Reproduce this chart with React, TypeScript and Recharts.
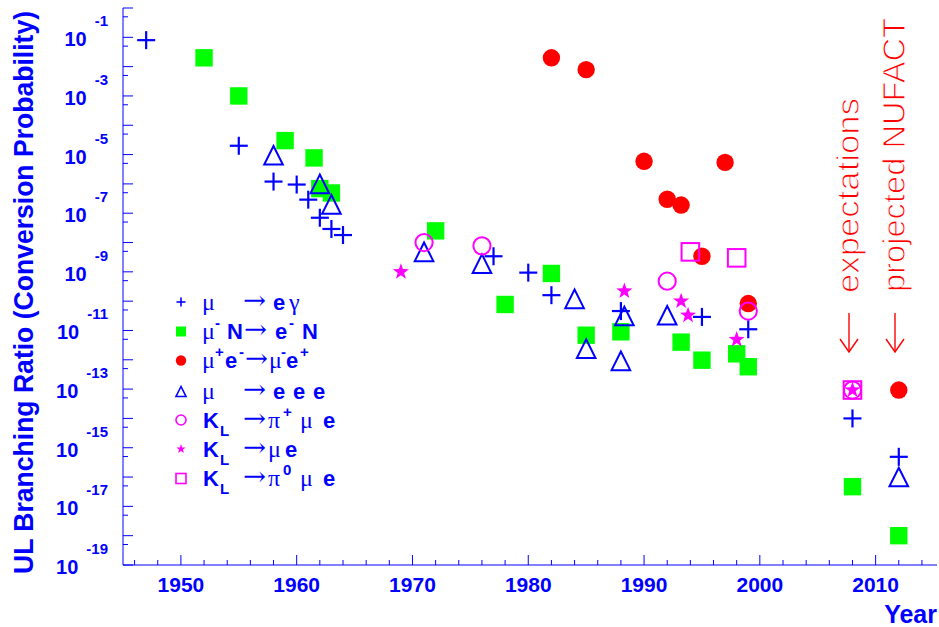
import React from 'react';
import { ScatterChart, Scatter, XAxis, YAxis } from 'recharts';

type Pt = [number, number];

// [year, upper limit]
const muEGamma: Pt[] = [
  [1947, 8e-2], [1955, 2e-5], [1958, 1.2e-6], [1960, 9.5e-7], [1961, 2.9e-7],
  [1962, 7e-8], [1963, 2.9e-8], [1964, 1.8e-8], [1977, 3.4e-9], [1980, 9.4e-10],
  [1982, 1.6e-10], [1988, 4.6e-11], [1995, 2.9e-11], [1999, 1.1e-11],
  [2008, 1e-14], [2012, 4.9e-16],
];
const muNeN: Pt[] = [
  [1952, 2e-2], [1955, 1e-3], [1959, 3e-5], [1961.5, 7.7e-6], [1962, 6.9e-7],
  [1963, 4.9e-7], [1972, 2.5e-8], [1978, 7.7e-11], [1982, 8.8e-10], [1985, 6.9e-12],
  [1988, 9e-12], [1993.2, 4e-12], [1995, 9.7e-13], [1998, 1.6e-12], [1999, 5.8e-13],
  [2008, 4.7e-17], [2012, 1e-18],
];
const muonium: Pt[] = [
  [1982, 2e-2], [1985, 7.9e-3], [1990, 5.9e-6], [1992, 3e-7], [1993.2, 1.9e-7],
  [1995, 3.4e-9], [1997, 5.4e-6], [1999, 8.3e-11], [2012, 9.3e-14],
];
const muEEE: Pt[] = [
  [1958, 9.5e-6], [1962, 1e-6], [1963, 2e-7], [1971, 4.8e-9], [1976, 1.9e-9],
  [1984, 1.2e-10], [1985, 2.4e-12], [1988, 9.2e-13], [1988.3, 3.1e-11], [1992, 3.3e-11],
  [2012, 1e-16],
];
const klPiMuE: Pt[] = [[1971, 1e-8], [1976, 7.7e-9], [1992, 4.8e-10], [1999, 4.6e-11], [2008, 9.3e-14]];
const klMuE: Pt[] = [
  [1969, 1e-9], [1988.3, 2.2e-10], [1993.2, 1e-10], [1993.8, 3.3e-11], [1998, 4.9e-12], [2008, 9.3e-14],
];
const klPi0MuE: Pt[] = [[1994, 4.8e-9], [1998, 3e-9], [2008, 9.3e-14]];

const xTicks = [
  1946, 1948, 1950, 1952, 1954, 1956, 1958, 1960, 1962, 1964, 1966, 1968, 1970, 1972,
  1974, 1976, 1978, 1980, 1982, 1984, 1986, 1988, 1990, 1992, 1994, 1996, 1998, 2000,
  2002, 2004, 2006, 2008, 2010, 2012, 2014,
];
const yDecades = [
  1, 1e-1, 1e-2, 1e-3, 1e-4, 1e-5, 1e-6, 1e-7, 1e-8, 1e-9, 1e-10, 1e-11, 1e-12, 1e-13,
  1e-14, 1e-15, 1e-16, 1e-17, 1e-18, 1e-19,
];
const yHalves = [
  5e-1, 5e-2, 5e-3, 5e-4, 5e-5, 5e-6, 5e-7, 5e-8, 5e-9, 5e-10, 5e-11, 5e-12, 5e-13,
  5e-14, 5e-15, 5e-16, 5e-17, 5e-18, 5e-19,
];

const BLUE = '#0000ff';
const GREEN = '#00ff00';
const RED = '#ff0000';
const MAG = '#ff00ff';
const SANS = 'Liberation Sans, Arial, sans-serif';
const SERIF = 'Liberation Serif, Times New Roman, serif';

const toRows = (pts: Pt[]) => pts.map(([x, y]) => ({ x, y }));

function Plus({ cx, cy, r = 9, w = 2.2 }: any) {
  return (
    <g stroke={BLUE} strokeWidth={w}>
      <line x1={cx - r} x2={cx + r} y1={cy} y2={cy} />
      <line x1={cx} x2={cx} y1={cy - r} y2={cy + r} />
    </g>
  );
}
function Box({ cx, cy, r = 8.7 }: any) {
  return <rect x={cx - r} y={cy - r} width={2 * r} height={2 * r} fill={GREEN} />;
}
function Dot({ cx, cy, r = 8.7 }: any) {
  return <circle cx={cx} cy={cy} r={r} fill={RED} />;
}
function Tri({ cx, cy, r = 9.3, w = 2 }: any) {
  return (
    <polygon
      points={`${cx},${cy - r} ${cx - r},${cy + r} ${cx + r},${cy + r}`}
      fill="none"
      stroke={BLUE}
      strokeWidth={w}
    />
  );
}
function Ring({ cx, cy, r = 8.6, w = 2 }: any) {
  return <circle cx={cx} cy={cy} r={r} fill="none" stroke={MAG} strokeWidth={w} />;
}
function Star({ cx, cy, r = 8.5 }: any) {
  const pts: string[] = [];
  for (let i = 0; i < 10; i++) {
    const rr = i % 2 === 0 ? r : r * 0.4;
    const a = -Math.PI / 2 + (i * Math.PI) / 5;
    pts.push(`${cx + rr * Math.cos(a)},${cy + rr * Math.sin(a)}`);
  }
  return <polygon points={pts.join(' ')} fill={MAG} />;
}
function OpenBox({ cx, cy, r = 8.8, w = 2 }: any) {
  return <rect x={cx - r} y={cy - r} width={2 * r} height={2 * r} fill="none" stroke={MAG} strokeWidth={w} />;
}

function XTick({ x, y, payload }: any) {
  const major = payload.value % 10 === 0;
  return (
    <g>
      <line x1={x} x2={x} y1={y} y2={y - (major ? 10 : 5)} stroke={BLUE} />
      {major && (
        <text x={x} y={y + 27} textAnchor="middle" fill={BLUE} fontFamily={SANS} fontWeight="bold" fontSize={21}>
          {payload.value}
        </text>
      )}
    </g>
  );
}

function YTick({ x, y, payload }: any) {
  const lg = Math.log10(payload.value);
  const e = Math.round(lg);
  const major = Math.abs(lg - e) < 0.01;
  return (
    <g>
      <line x1={x} x2={x + (major ? 10 : 5)} y1={y} y2={y} stroke={BLUE} />
      {major && e % 2 !== 0 && (
        <text x={108} y={y + 9} textAnchor="end" fill={BLUE} fontFamily={SANS} fontWeight="bold">
          <tspan fontSize={20}>10</tspan>
          <tspan dx={8} dy={-20} fontSize={15}>{e}</tspan>
        </text>
      )}
    </g>
  );
}

type Tok = [string, number, 'b' | 'g' | 'a' | 'sup' | 'sub'];
const legendRows: { y: number; marker: string; toks: Tok[] }[] = [
  { y: 302, marker: 'plus', toks: [['μ', 202, 'g'], ['→', 243, 'a'], ['e', 273, 'b'], ['γ', 289, 'g']] },
  { y: 331.5, marker: 'box', toks: [['μ', 202, 'g'], ['-', 215, 'sup'], ['N', 227, 'b'], ['→', 244, 'a'], ['e', 275, 'b'], ['-', 289, 'sup'], ['N', 302, 'b']] },
  { y: 360.5, marker: 'dot', toks: [['μ', 202, 'g'], ['+', 215, 'sup'], ['e', 225, 'b'], ['-', 239, 'sup'], ['→', 245, 'a'], ['μ', 269, 'g'], ['-', 281, 'sup'], ['e', 286, 'b'], ['+', 300, 'sup']] },
  { y: 391.5, marker: 'tri', toks: [['μ', 202, 'g'], ['→', 243, 'a'], ['e', 273, 'b'], ['e', 293, 'b'], ['e', 313, 'b']] },
  { y: 420, marker: 'ring', toks: [['K', 203, 'b'], ['L', 220, 'sub'], ['→', 243, 'a'], ['π', 268, 'g'], ['+', 283, 'sup'], ['μ', 300, 'g'], ['e', 323, 'b']] },
  { y: 449, marker: 'star', toks: [['K', 203, 'b'], ['L', 220, 'sub'], ['→', 243, 'a'], ['μ', 268, 'g'], ['e', 285, 'b']] },
  { y: 478.5, marker: 'obox', toks: [['K', 203, 'b'], ['L', 220, 'sub'], ['→', 243, 'a'], ['π', 268, 'g'], ['0', 283, 'sup'], ['μ', 300, 'g'], ['e', 323, 'b']] },
];

function LegendMarker({ kind, cx, cy }: { kind: string; cx: number; cy: number }) {
  switch (kind) {
    case 'plus': return <Plus cx={cx} cy={cy} r={4.5} w={1.6} />;
    case 'box': return <Box cx={cx} cy={cy} r={5} />;
    case 'dot': return <Dot cx={cx} cy={cy} r={5.2} />;
    case 'tri': return <Tri cx={cx} cy={cy} r={5} w={1.6} />;
    case 'ring': return <Ring cx={cx} cy={cy} r={5} w={1.6} />;
    case 'star': return <Star cx={cx} cy={cy} r={5} />;
    default: return <OpenBox cx={cx} cy={cy} r={5} w={1.6} />;
  }
}

// downward arrow drawn under the rotated red notes
function DownArrow({ x, y1, y2 }: { x: number; y1: number; y2: number }) {
  return (
    <g stroke={RED} strokeWidth={1.4} fill="none">
      <line x1={x} x2={x} y1={y1} y2={y2} />
      <polyline points={`${x - 9},${y2 - 13} ${x},${y2} ${x + 9},${y2 - 13}`} />
    </g>
  );
}

function Overlay() {
  return (
    <svg width={939} height={627} style={{ position: 'absolute', left: 0, top: 0, pointerEvents: 'none' }}>
      <text
        x={33}
        y={292.5}
        transform="rotate(-90 33 292.5)"
        textAnchor="middle"
        fill={BLUE}
        fontFamily={SANS}
        fontWeight="bold"
        fontSize={27}
        textLength={563}
        lengthAdjust="spacingAndGlyphs"
      >
        UL Branching Ratio (Conversion Probability)
      </text>
      <text x={937} y={623} textAnchor="end" fill={BLUE} fontFamily={SANS} fontWeight="bold" fontSize={25}>
        Year
      </text>

      {legendRows.map((row, i) => (
        <g key={i}>
          <LegendMarker kind={row.marker} cx={181} cy={row.y} />
          {row.toks.map(([t, x, k], j) => {
            const base = row.y + 7.5;
            if (k === 'g')
              return (
                <text key={j} x={x} y={base} fill={BLUE} fontFamily={SERIF} fontSize={24}>{t}</text>
              );
            if (k === 'a')
              return (
                <text key={j} x={x} y={base - 1} fill={BLUE} fontFamily="DejaVu Serif, serif" fontSize={26} textLength={23} lengthAdjust="spacingAndGlyphs">{t}</text>
              );
            if (k === 'b')
              return (
                <text key={j} x={x} y={base} fill={BLUE} fontFamily={SANS} fontWeight="bold" fontSize={22}>{t}</text>
              );
            if (k === 'sup')
              return (
                <text key={j} x={x} y={base - 11} fill={BLUE} fontFamily={SANS} fontWeight="bold" fontSize={15}>{t}</text>
              );
            return (
              <text key={j} x={x} y={base + 8} fill={BLUE} fontFamily={SANS} fontWeight="bold" fontSize={15}>{t}</text>
            );
          })}
        </g>
      ))}

      <g fill={RED} stroke="#ffffff" strokeWidth={1.0} fontFamily={SANS} fontSize={31}>
        <text x={859} y={293} transform="rotate(-90 859 293)" textLength={195} lengthAdjust="spacingAndGlyphs">expectations</text>
        <text x={905} y={292} transform="rotate(-90 905 292)" textLength={274} lengthAdjust="spacingAndGlyphs">projected NUFACT</text>
      </g>
      <DownArrow x={849} y1={313} y2={352} />
      <DownArrow x={895} y1={313} y2={352} />
    </svg>
  );
}

export default function App() {
  return (
    <div style={{ position: 'absolute', left: 0, top: 0, width: 939, height: 627, background: '#fff' }}>
      <ScatterChart width={939} height={627} margin={{ top: 8, right: 2, left: 0, bottom: 0 }}>
        <XAxis
          type="number"
          dataKey="x"
          domain={[1945, 2015.3]}
          ticks={xTicks}
          interval={0}
          tickSize={0}
          tickMargin={0}
          tickLine={false}
          axisLine={{ stroke: BLUE }}
          tick={<XTick />}
          height={62}
          allowDataOverflow
        />
        <YAxis
          type="number"
          dataKey="y"
          scale="log"
          domain={[1e-19, 1]}
          ticks={[...yDecades, ...yHalves]}
          interval={0}
          tickSize={0}
          tickMargin={0}
          tickLine={false}
          axisLine={{ stroke: BLUE }}
          tick={<YTick />}
          width={123}
          allowDataOverflow
        />
        <XAxis xAxisId="top" orientation="top" type="number" domain={[1945, 2015.3]} height={0} tick={false} tickLine={false} axisLine={{ stroke: '#7a7aff' }} />
        <YAxis yAxisId="right" orientation="right" type="number" domain={[0, 1]} width={0} tick={false} tickLine={false} axisLine={{ stroke: '#7a7aff' }} />

        <Scatter data={toRows(muEGamma)} isAnimationActive={false} shape={(p: any) => <Plus cx={p.cx} cy={p.cy} />} />
        <Scatter data={toRows(muNeN)} isAnimationActive={false} shape={(p: any) => <Box cx={p.cx} cy={p.cy} />} />
        <Scatter data={toRows(muonium)} isAnimationActive={false} shape={(p: any) => <Dot cx={p.cx} cy={p.cy} />} />
        <Scatter data={toRows(muEEE)} isAnimationActive={false} shape={(p: any) => <Tri cx={p.cx} cy={p.cy} />} />
        <Scatter data={toRows(klPiMuE)} isAnimationActive={false} shape={(p: any) => <Ring cx={p.cx} cy={p.cy} />} />
        <Scatter data={toRows(klMuE)} isAnimationActive={false} shape={(p: any) => <Star cx={p.cx} cy={p.cy} />} />
        <Scatter data={toRows(klPi0MuE)} isAnimationActive={false} shape={(p: any) => <OpenBox cx={p.cx} cy={p.cy} />} />
      </ScatterChart>
      <Overlay />
    </div>
  );
}
